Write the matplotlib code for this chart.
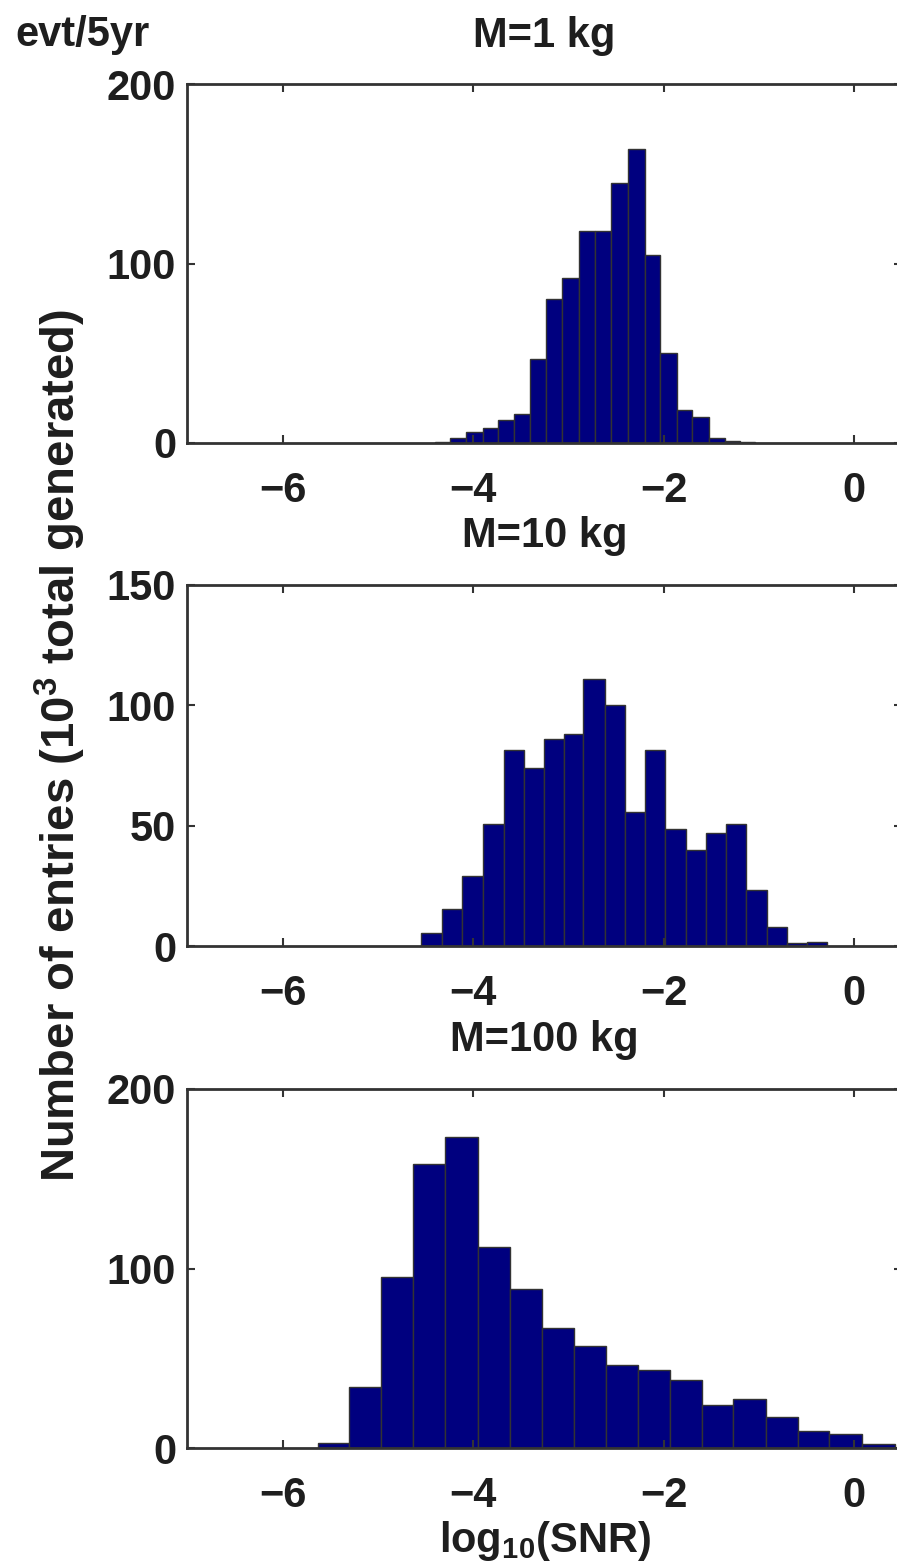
import numpy as np
import matplotlib
matplotlib.use("Agg")
import matplotlib.pyplot as plt

plt.rcParams['font.family'] = ['Liberation Sans', 'DejaVu Sans']
plt.rcParams['font.weight'] = 'bold'
plt.rcParams['axes.labelweight'] = 'bold'
plt.rcParams['axes.titleweight'] = 'bold'
plt.rcParams['mathtext.fontset'] = 'custom'
plt.rcParams['mathtext.bf'] = 'Liberation Sans:bold'
plt.rcParams['mathtext.rm'] = 'Liberation Sans:bold'
plt.rcParams['mathtext.default'] = 'bf'

# bin edges (log10 SNR) and counts per bin
edges_1kg = [-4.40, -4.24, -4.07, -3.90, -3.74, -3.57, -3.40, -3.24, -3.07, -2.89,
             -2.72, -2.55, -2.37, -2.20, -2.04, -1.86, -1.70, -1.52, -1.36, -1.20, -1.04]
counts_1kg = [0.5, 2.6, 6.3, 8.2, 12.8, 16, 47, 80, 92, 118,
              118, 145, 164, 105, 50, 18.4, 14.3, 2.6, 1.3, 0.5]

edges_10kg = [-4.55, -4.33, -4.12, -3.90, -3.68, -3.47, -3.26, -3.05, -2.85, -2.62,
              -2.41, -2.20, -1.99, -1.77, -1.56, -1.35, -1.14, -0.91, -0.70, -0.49, -0.28]
counts_10kg = [5.6, 15.2, 29, 50.8, 81.3, 74.1, 86.2, 88, 111, 100,
               55.7, 81.3, 48.8, 40, 47, 50.8, 23.1, 7.9, 1.3, 1.7]

edges_100kg = [-5.63, -5.30, -4.97, -4.63, -4.29, -3.95, -3.61, -3.28, -2.94, -2.61,
               -2.27, -1.93, -1.60, -1.27, -0.93, -0.59, -0.26, 0.08, 0.43]
counts_100kg = [2.8, 34, 95.5, 158, 173.5, 111.7, 88.5, 67.1, 57.1, 46.4,
                43.2, 38, 24.1, 27.3, 17, 9.3, 8, 2.2]

titles = ['M=1 kg', 'M=10 kg', 'M=100 kg']
ymaxs = [200, 150, 200]
yticks = [[0, 100, 200], [0, 50, 100, 150], [0, 100, 200]]
xticks = [-6, -4, -2, 0]

panels = [(edges_1kg, counts_1kg), (edges_10kg, counts_10kg), (edges_100kg, counts_100kg)]

W, H = 897, 1562
fig = plt.figure(figsize=(W / 100, H / 100), dpi=100)

# axes boxes in pixels: (top, bottom)
boxes = [(84, 443), (585, 946), (1089, 1448)]
left, right = 187.3, 901.8

txt = '#1e1e1e'
fs = 30

for i in range(3):
    top, bot = boxes[i]
    ax = fig.add_axes([left / W, 1 - bot / H, (right - left) / W, (bot - top) / H])
    e = np.array(panels[i][0])
    c = np.array(panels[i][1])
    ax.bar(e[:-1], c, width=np.diff(e), align='edge', color='#00007f',
           edgecolor='#333333', linewidth=1.0)
    ax.set_xlim(-7, 0.5)
    ax.set_ylim(0, ymaxs[i])
    ax.set_xticks(xticks)
    ax.set_yticks(yticks[i])
    ax.tick_params(direction='in', length=6, width=1.5, top=True, right=True,
                   labelsize=fs, colors='#333333', labelcolor=txt)
    ax.tick_params(axis='x', pad=20)
    ax.tick_params(axis='y', pad=8)
    for s in ax.spines.values():
        s.set_linewidth(2)
        s.set_color('#333333')
    ax.set_title(titles[i], fontsize=fs, fontweight='bold', color=txt, pad=27)
    if i == 2:
        ax.set_xlabel('log$_{10}$(SNR)', fontsize=fs, fontweight='bold', color=txt, labelpad=2)

fig.text(15 / W, 1 - 15 / H, 'evt/5yr', fontsize=fs, ha='left', va='top', color=txt)
fig.text(60 / W, 1 - 745 / H, 'Number of entries (10$^3$ total generated)',
         fontsize=34, rotation=90, ha='center', va='center', color=txt)

fig.savefig('out.png', dpi=100)
